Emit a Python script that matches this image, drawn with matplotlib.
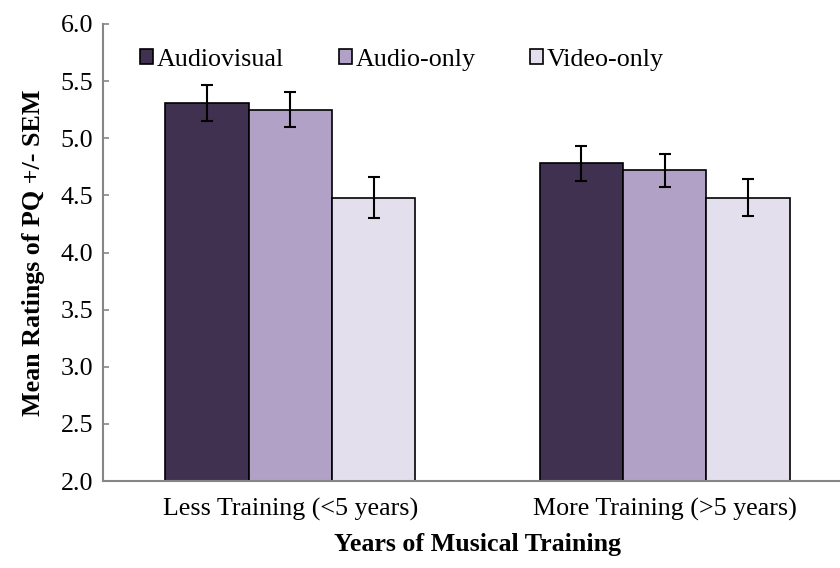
import matplotlib
matplotlib.use('Agg')
import matplotlib.pyplot as plt
import numpy as np

plt.rcParams['font.family'] = ['Liberation Serif', 'DejaVu Serif']

groups = ['Less Training (<5 years)', 'More Training (>5 years)']
conditions = ['Audiovisual', 'Audio-only', 'Video-only']
means = {
    'Audiovisual': [5.31, 4.78],
    'Audio-only': [5.25, 4.72],
    'Video-only': [4.48, 4.48],
}
sems = {
    'Audiovisual': [0.16, 0.15],
    'Audio-only': [0.155, 0.145],
    'Video-only': [0.18, 0.16],
}
colors = ['#403151', '#b2a1c7', '#e4dfec']

fs = 18.7
fig = plt.figure(figsize=(8.4, 5.68), dpi=100)
ax = fig.add_axes([103/840, 87/568, 749/840, 457/568])

x = np.arange(len(groups))
w = 0.2225
for i, c in enumerate(conditions):
    ax.bar(x + (i - 1)*w, means[c], w, bottom=0, color=colors[i],
           edgecolor='black', linewidth=1.2, label=c, zorder=2)
    ax.errorbar(x + (i - 1)*w, means[c], yerr=sems[c], fmt='none',
                ecolor='black', elinewidth=1.5, capsize=4.2, capthick=1.5, zorder=3)

ax.set_xlim(-0.5, 1.5)
ax.set_ylim(2.0, 6.0)
ax.set_yticks(np.arange(2.0, 6.01, 0.5))
ax.set_yticklabels(['%.1f' % v for v in np.arange(2.0, 6.01, 0.5)])
ax.set_xticks(x)
ax.set_xticklabels(groups)
ax.tick_params(axis='y', direction='in', length=4.5, width=1.2, color='#868686',
               labelsize=fs, pad=7)
ax.tick_params(axis='x', length=0, labelsize=fs, pad=12)

for s in ['top', 'right']:
    ax.spines[s].set_visible(False)
for s in ['left', 'bottom']:
    ax.spines[s].set_color('#868686')
    ax.spines[s].set_linewidth(1.5)

ax.set_ylabel('Mean Ratings of PQ +/- SEM', fontsize=fs, fontweight='bold', labelpad=11)
fig.text(478/840, 1 - 545/568, 'Years of Musical Training', fontsize=fs,
         fontweight='bold', ha='center', va='center')

ax.legend(loc='center left', bbox_to_anchor=(140/840, 1 - 60/568),
          bbox_transform=fig.transFigure, ncol=3, frameon=False, fontsize=fs,
          handlelength=0.5, handleheight=0.5, handletextpad=0.15,
          columnspacing=2.1, borderpad=0, borderaxespad=0)

fig.savefig('out.png', dpi=100)
